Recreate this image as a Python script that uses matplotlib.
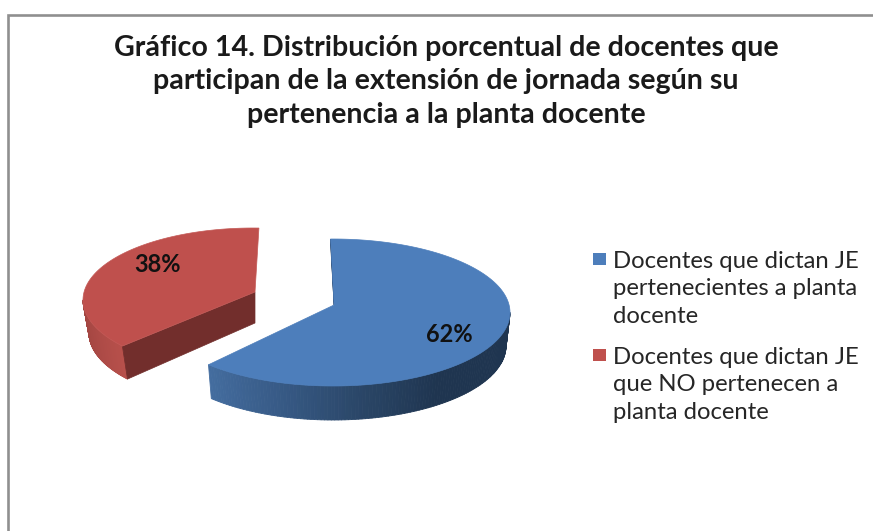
import numpy as np
import matplotlib
matplotlib.use("Agg")
import matplotlib.pyplot as plt
from matplotlib.collections import PolyCollection
from matplotlib.colors import LinearSegmentedColormap
from matplotlib.patches import Polygon, Rectangle

# datos del grafico
title = ("Gráfico 14. Distribución porcentual de docentes que\n"
         "participan de la extensión de jornada según su\n"
         "pertenencia a la planta docente")
labels = ["Docentes que dictan JE\npertenecientes a planta\ndocente",
          "Docentes que dictan JE\nque NO pertenecen a\nplanta docente"]
values = [62, 38]
value_labels = ["62%", "38%"]

# estilo
plt.rcParams["font.family"] = ["Lato", "DejaVu Sans"]
top_colors = ["#4d7ebb", "#bf504d"]
face_color = "#722e2c"
text_color = "#1a1a1a"

fig = plt.figure(figsize=(8.73, 5.31), dpi=100)
ax = fig.add_axes([0, 0, 1, 1])
# ejes en pixeles para colocar el pie como en la imagen
ax.set_xlim(0, 873)
ax.set_ylim(531, 0)
ax.axis("off")

# marco gris (solo se ven arriba e izquierda)
ax.plot([8, 8, 873], [531, 15, 15], color="#8f8f8f", lw=1.9, solid_joinstyle="miter")

ax.text(446, 81.5, title, ha="center", va="center", fontsize=20.6, fontweight="bold",
        color=text_color, linespacing=1.36)


def rim(cx, cy, rx, ry, deg):
    a = np.radians(deg)
    return np.column_stack([cx + rx * np.cos(a), cy - ry * np.sin(a)])


def wall(t1, t2, top, bottom, cmap, c1, c2):
    # pared exterior hecha de tiras finas con degradado
    deg = np.linspace(t1, t2, 120)
    a = rim(*top, deg)
    b = rim(*bottom, deg)
    quads = [[a[i], a[i + 1], b[i + 1], b[i]] for i in range(len(deg) - 1)]
    tt = np.linspace(c1, c2, len(quads))
    pc = PolyCollection(quads, facecolors=cmap(tt), edgecolors=cmap(tt), linewidths=0.6)
    ax.add_collection(pc)


# angulos a partir de los valores, sentido horario desde arriba
sweep = np.array(values) / sum(values) * 360
blue_end = 90 - sweep[0]
red_end = blue_end - sweep[1]

# ---- porcion roja (separada) ----
red_top = (253, 300, 170, 72)
red_bot = (255, 333, 166, 72)
red_apex = (255, 292)
red_apex_low = (255, 323)
# la perspectiva abre un poco el borde delantero
r1, r2 = blue_end - 7, red_end - 2
red_cmap = LinearSegmentedColormap.from_list("r", ["#a0443f", "#aa4945", "#b7504b"])
wall(-180, r1, red_top, red_bot, red_cmap, 0, 1)
corner = rim(*red_top, r1)[0]
corner_low = rim(*red_bot, r1)[0]
ax.add_patch(Polygon([red_apex, corner, corner_low, red_apex_low], fc=face_color, ec=face_color, lw=0.5))
rim_pts = rim(*red_top, np.linspace(r1, r2, 160))
ax.add_patch(Polygon(np.vstack([[red_apex], rim_pts]), fc=top_colors[1], ec="#c45a57", lw=0.5))

# ---- porcion azul ----
blue_top = (333, 312.5, 177, 73.5)
blue_bot = (333, 346, 173, 74)
blue_apex = (334, 305)
blue_cmap = LinearSegmentedColormap.from_list(
    "b", ["#446d9f", "#375a86", "#2a4667", "#1f3550", "#1f3550", "#1f3550"])
wall(blue_end - 1.5, 0, blue_top, blue_bot, blue_cmap, 0, 1)
b_start = 90.8
ax.add_patch(Polygon([blue_apex, rim(*blue_top, b_start)[0] + [0.5, 14], rim(*blue_top, b_start)[0]],
                     fc="#1f3550", ec="#1f3550", lw=0.4))
rim_pts = rim(*blue_top, np.linspace(b_start, blue_end - 1.5, 200))
ax.add_patch(Polygon(np.vstack([[blue_apex], rim_pts]), fc=top_colors[0], ec=top_colors[0], lw=0.5))

# etiquetas de porcentaje
ax.text(449, 334, value_labels[0], ha="center", va="center", fontsize=17, fontweight="bold", color="#111111")
ax.text(158, 265, value_labels[1], ha="center", va="center", fontsize=17, fontweight="bold", color="#111111")

# leyenda a mano: el cuadrito va a la altura de la primera linea
legend_y = [251, 347]
for y, lab, col in zip(legend_y, labels, top_colors):
    ax.add_patch(Rectangle((593, y + 2), 13, 12, fc=col, ec="none"))
    ax.text(613, y, lab, ha="left", va="top", fontsize=17.2, color="#262626", linespacing=1.38)

fig.savefig("out.png", dpi=100)
